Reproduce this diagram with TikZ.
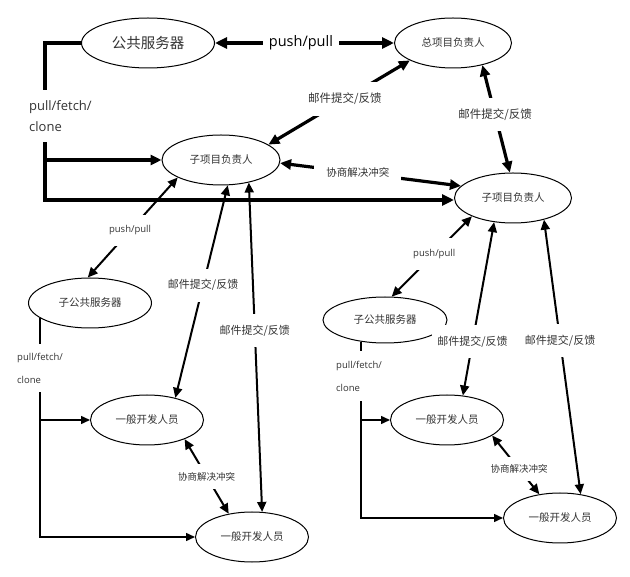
\documentclass[tikz,border=0pt]{standalone}
\usepackage{fontspec}
\setmainfont{Open Sans}
\newfontfamily\cjk{Noto Sans CJK SC}
\usetikzlibrary{arrows.meta,shapes.geometric}
\definecolor{txt}{HTML}{333333}
\tikzset{
  el/.style={ellipse, draw=black, line width=1pt, inner sep=0pt, minimum width=113pt, minimum height=50pt,
    font=\cjk\fontsize{10.5}{12}\selectfont, text=txt},
  thickc/.style={line width=4pt, >={Triangle[length=12pt,width=11pt]}},
  medc/.style={line width=3.2pt, >={Triangle[length=11pt,width=10pt]}},
  thinc/.style={line width=2pt, >={Triangle[length=10pt,width=9pt]}},
  hairc/.style={line width=1.5pt, >={Triangle[length=9pt,width=8pt]}},
  lab/.style={fill=white, inner xsep=5pt, inner ysep=11pt, font=\cjk\fontsize{11}{13}\selectfont, text=txt},
  biglab/.style={lab, font=\cjk\fontsize{11.5}{14}\selectfont},
  smlab/.style={lab, inner ysep=8pt, font=\cjk\fontsize{9.5}{11}\selectfont},
  latlab/.style={fill=white, inner xsep=4pt, inner ysep=11pt, text=txt, font=\fontsize{9.5}{11}\selectfont},
  pflab/.style={fill=white, anchor=west, align=left, inner xsep=1pt, text=txt}
}
\begin{document}
\begin{tikzpicture}[x=1pt,y=-1pt]
\useasboundingbox (0,0) rectangle (630,577);
% nodes
\node[el, minimum width=133pt, font=\cjk\fontsize{14.5}{16}\selectfont] (PS) at (148,43) {公共服务器};
\node[el, minimum width=117pt] (ZX) at (453,43) {总项目负责人};
\node[el, minimum width=118pt] (SL) at (221,160) {子项目负责人};
\node[el, minimum width=117pt] (SR) at (513,198) {子项目负责人};
\node[el, minimum width=123pt] (SPL) at (90,303) {子公共服务器};
\node[el, minimum width=124pt, minimum height=46pt] (SPR) at (385,320) {子公共服务器};
\node[el] (DLT) at (147,420) {一般开发人员};
\node[el] (DLB) at (252,537) {一般开发人员};
\node[el] (DRT) at (447,420) {一般开发人员};
\node[el] (DRB) at (560,518) {一般开发人员};
% main bus
\coordinate (busL) at (45,200);
\draw[thickc,->] (PS.west) -| (busL) -- (busL -| SR.west);
\draw[medc,->] (busL |- SL.west) -- (SL.west);
\node[pflab, inner ysep=10pt, font=\fontsize{13}{21}\selectfont] (pf1) at (28,116) {pull/fetch/\\clone};
% top push/pull
\draw[thickc,<->] (PS.east) -- node[pos=0.48, fill=white, inner xsep=6pt, text=black, font=\fontsize{14.5}{17}\selectfont] {push/pull} (ZX.west);
\draw[medc,<->] (SL.18) -- node[biglab, pos=0.54] {邮件提交/反馈} (ZX.202);
\draw[medc,<->] (ZX.-37) -- node[biglab, pos=0.46] {邮件提交/反馈} (SR.97);
\draw[medc,<->] (SL.-3) -- node[lab, pos=0.43, inner xsep=12pt, inner ysep=6pt, font=\cjk\fontsize{10.5}{12}\selectfont] {协商解决冲突} (SR.167);
% left subtree
\draw[thinc,<->] (SL.202) -- node[latlab, pos=0.53] {push/pull} (SPL.95);
\draw[thinc,<->] (SL.-75) -- node[lab, pos=0.47] {邮件提交/反馈} (DLT.38);
\draw[thinc,<->] (SL.-39) -- node[lab, pos=0.45] {邮件提交/反馈} (DLB.68);
\draw[thinc,<->] (DLT.-27) -- node[smlab, pos=0.5] {协商解决冲突} (DLB.135);
\draw[hairc,->] (SPL.197) |- (DLB.west);
\draw[hairc,->] (SPL.197 |- DLT.west) -- (DLT.west);
\node[pflab, inner ysep=9pt, font=\fontsize{9.5}{23}\selectfont] (pf2) at (16,368) {pull/fetch/\\clone};
% right subtree
\draw[thinc,<->] (SR.204) -- node[latlab, pos=0.47] {push/pull} (SPR.74);
\draw[thinc,<->] (SR.232) -- node[lab, pos=0.69] {邮件提交/反馈} (DRT.57);
\draw[thinc,<->] (SR.-35) -- node[lab, pos=0.44] {邮件提交/反馈} (DRB.49);
\draw[thinc,<->] (DRT.-19) -- node[smlab, pos=0.57] {协商解决冲突} (DRB.131);
\draw[hairc,->] (SPR.222) |- (DRB.west);
\draw[hairc,->] (SPR.222 |- DRT.west) -- (DRT.west);
\node[pflab, inner ysep=10pt, font=\fontsize{9.5}{23}\selectfont] (pf3) at (335,376) {pull/fetch/\\clone};
\end{tikzpicture}
\end{document}
